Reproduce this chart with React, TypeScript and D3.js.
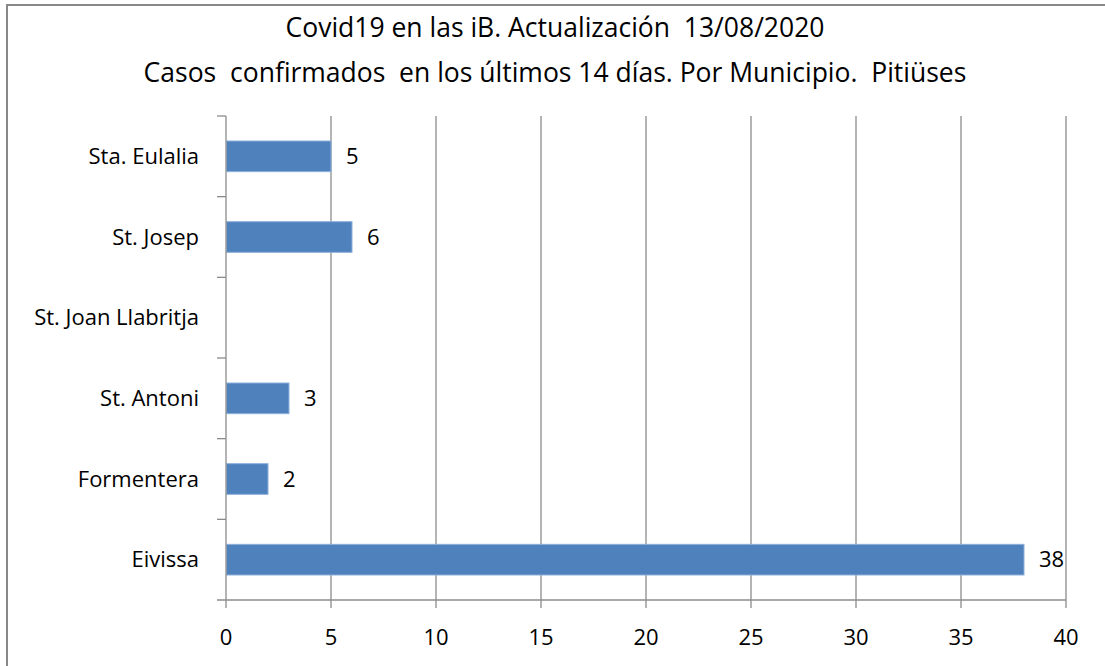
import * as d3 from 'd3';

const municipios = ['Sta. Eulalia', 'St. Josep', 'St. Joan Llabritja', 'St. Antoni', 'Formentera', 'Eivissa'];
const casos = [5, 6, null, 3, 2, 38];
const xTicks = [0, 5, 10, 15, 20, 25, 30, 35, 40];
const titleLines = [
  'Covid19 en las iB. Actualización  13/08/2020',
  'Casos  confirmados  en los últimos 14 días. Por Municipio.  Pitiüses',
];

export default function App() {
  const width = 1105;
  const height = 666;
  const margin = { top: 116, right: 39, bottom: 66, left: 226 };
  const innerWidth = width - margin.left - margin.right;
  const innerHeight = height - margin.top - margin.bottom;
  const font = "'Open Sans', 'Noto Sans', sans-serif";

  const x = d3.scaleLinear().domain([0, 40]).range([0, innerWidth]);
  const y = d3
    .scaleBand<string>()
    .domain(municipios)
    .range([0, innerHeight])
    .paddingInner(0.62)
    .paddingOuter(0.31);
  const step = y.step();

  return (
    <svg
      width={width}
      height={height}
      style={{ position: 'absolute', left: 0, top: 0, background: '#fff' }}
    >
      <rect x={7} y={5} width={1120} height={700} fill="#fff" stroke="#888" strokeWidth={2} />
      {titleLines.map((t, i) => (
        <text
          key={i}
          x={555}
          y={37 + i * 45}
          textAnchor="middle"
          fontFamily={font}
          fontSize={26.5}
          fill="#000"
          style={{ whiteSpace: 'pre' }}
        >
          {t}
        </text>
      ))}
      <g transform={`translate(${margin.left},${margin.top})`}>
        {/* grid lines */}
        {xTicks.slice(1).map((t) => (
          <line key={t} x1={x(t)} x2={x(t)} y1={0} y2={innerHeight} stroke="#8c8c8c" strokeWidth={1.3} />
        ))}
        {/* bars */}
        {municipios.map((m, i) =>
          casos[i] == null ? null : (
            <g key={m}>
              <rect
                x={0.5}
                y={y(m)}
                width={x(casos[i] as number) - 0.5}
                height={y.bandwidth()}
                fill="#4f81bd"
                stroke="#8db0dc"
                strokeWidth={1}
              />
              <text
                x={x(casos[i] as number) + 15}
                y={(y(m) as number) + y.bandwidth() / 2}
                dy="0.35em"
                fontFamily={font}
                fontSize={22}
                fill="#000"
              >
                {casos[i]}
              </text>
            </g>
          )
        )}
        {/* y axis */}
        <line x1={0} x2={0} y1={0} y2={innerHeight} stroke="#8c8c8c" strokeWidth={1.3} />
        {d3.range(municipios.length).map((i) => (
          <line key={i} x1={-9} x2={0} y1={i * step} y2={i * step} stroke="#8c8c8c" strokeWidth={1.3} />
        ))}
        {municipios.map((m) => (
          <text
            key={m}
            x={-27}
            y={(y(m) as number) + y.bandwidth() / 2}
            dy="0.35em"
            textAnchor="end"
            fontFamily={font}
            fontSize={22}
            fill="#000"
          >
            {m}
          </text>
        ))}
        {/* x axis */}
        <line x1={-9} x2={innerWidth} y1={innerHeight} y2={innerHeight} stroke="#8c8c8c" strokeWidth={1.3} />
        {xTicks.map((t) => (
          <g key={t}>
            <line x1={x(t)} x2={x(t)} y1={innerHeight} y2={innerHeight + 8} stroke="#8c8c8c" strokeWidth={1.3} />
            <text
              x={x(t)}
              y={innerHeight + 45}
              textAnchor="middle"
              fontFamily={font}
              fontSize={22}
              fill="#000"
            >
              {t}
            </text>
          </g>
        ))}
      </g>
    </svg>
  );
}
